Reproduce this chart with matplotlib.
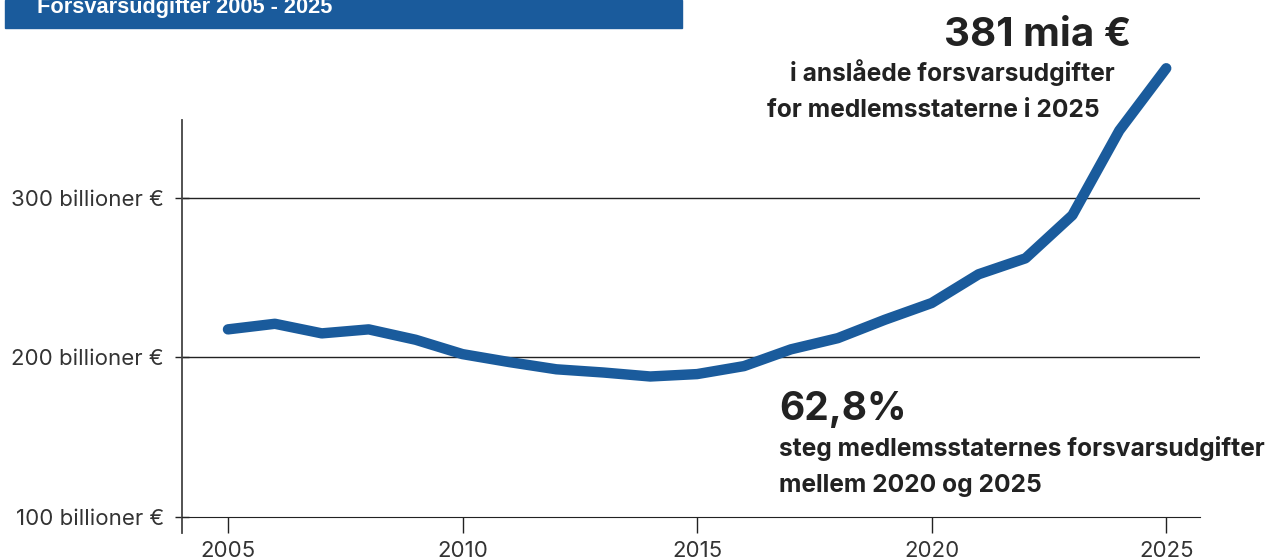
import matplotlib.pyplot as plt
from matplotlib.patches import Rectangle

# ---------- data ----------
years = list(range(2005, 2026))
spending = [217.5, 221, 215, 217.5, 211, 202, 197, 192.5, 190.5, 188, 189.5,
            194.5, 205, 212, 223.5, 234, 252, 262, 289, 342, 381]
ytick_vals = [100, 200, 300]
ytick_labels = ["100 billioner €", "200 billioner €", "300 billioner €"]
xtick_vals = [2005, 2010, 2015, 2020, 2025]

title = "Forsvarsudgifter 2005 - 2025"
big1 = "381 mia €"
sub1 = ["i anslåede forsvarsudgifter", "for medlemsstaterne i 2025"]
big2 = "62,8%"
sub2 = ["steg medlemsstaternes forsvarsudgifter", "mellem 2020 og 2025"]

blue = "#1a5b9c"
dark = "#222222"
W, H = 1279, 560

plt.rcParams['font.family'] = ['Inter', 'DejaVu Sans']

fig = plt.figure(figsize=(W / 100, H / 100), dpi=100)
ax = fig.add_axes([182 / W, 1 - 533 / H, (1200 - 182) / W, (533 - 120) / H])


def px(x, y):
    return x / W, 1 - y / H


# ---------- line ----------
ax.plot(years, spending, color=blue, lw=7.5, solid_capstyle='round',
        solid_joinstyle='round', clip_on=False, zorder=3)

ax.set_xlim(2004.02, 2025.72)
ax.set_ylim(90, 348.6)
for v in [200, 300]:
    ax.axhline(v, color=dark, lw=1, zorder=1)

ax.spines['top'].set_visible(False)
ax.spines['right'].set_visible(False)
ax.spines['bottom'].set_position(('data', 100))
ax.spines['bottom'].set_color(dark)
ax.spines['left'].set_color('#444444')
ax.spines['left'].set_linewidth(1.3)

ax.set_yticks(ytick_vals)
ax.set_yticklabels(ytick_labels)
ax.set_xticks(xtick_vals)
ax.tick_params(axis='y', direction='inout', length=10, width=1, colors=dark,
               labelsize=16, labelcolor='#333333', pad=8)
ax.tick_params(axis='x', direction='out', length=11.5, width=1, colors=dark,
               labelsize=16, labelcolor='#333333', pad=6)

# ---------- title banner ----------
fig.patches.append(Rectangle(px(5, 28), (682 - 5) / W, 28 / H,
                             transform=fig.transFigure, color=blue, zorder=0))
fig.text(*px(37, 13), title, color='white', fontsize=15.7, fontweight='bold',
         family=['Liberation Sans', 'DejaVu Sans'], va='baseline', ha='left')

# ---------- annotations ----------
fig.text(*px(944, 46), big1, color=dark, fontsize=29, fontweight='bold',
         va='baseline', ha='left')
fig.text(*px(790, 81), sub1[0], color=dark, fontsize=17.7, fontweight='bold',
         va='baseline', ha='left')
fig.text(*px(767, 117), sub1[1], color=dark, fontsize=17.7, fontweight='bold',
         va='baseline', ha='left')

fig.text(*px(779, 420), big2, color=dark, fontsize=28, fontweight='bold',
         va='baseline', ha='left')
fig.text(*px(779, 456), sub2[0], color=dark, fontsize=17.7, fontweight='bold',
         va='baseline', ha='left')
fig.text(*px(779, 492), sub2[1], color=dark, fontsize=17.7, fontweight='bold',
         va='baseline', ha='left')

fig.savefig("out.png", dpi=100)
